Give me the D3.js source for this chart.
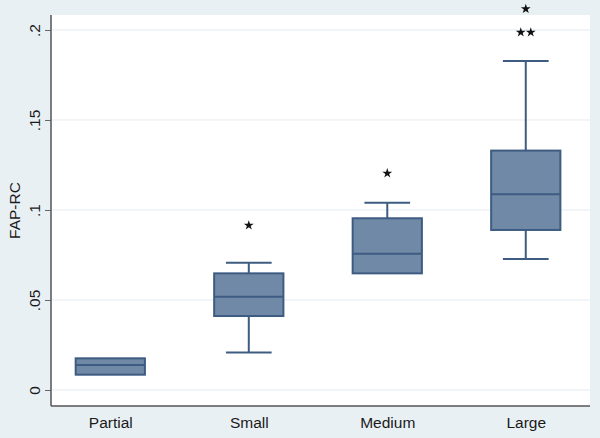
<!DOCTYPE html>
<html>
<head>
<meta charset="utf-8">
<script src="https://cdn.jsdelivr.net/npm/d3@7"></script>
<style>
  html, body { margin: 0; padding: 0; background: #e9f0f4; }
  svg { display: block; }
  text { font-family: "Liberation Sans", Arial, Helvetica, sans-serif; fill: #1a1a1a; }
</style>
</head>
<body>
<svg id="chart" width="600" height="438"></svg>
<script>
(function () {
  "use strict";

  // box plot summary per group
  const categories = ["Partial", "Small", "Medium", "Large"];
  const q1 = [0.0085, 0.0411, 0.0648, 0.0889];
  const median = [0.0139, 0.0518, 0.0757, 0.1087];
  const q3 = [0.0176, 0.0648, 0.0954, 0.1330];
  const whiskerLow = [0.0085, 0.0209, 0.0648, 0.0728];
  const whiskerHigh = [0.0176, 0.0707, 0.1040, 0.1828];
  const outliers = [[], [0.0915], [0.1204], [0.1987, 0.1987, 0.2117]];
  const yTicks = [0, 0.05, 0.1, 0.15, 0.2];
  const yTickLabels = ["0", ".05", ".1", ".15", ".2"];

  const W = 600, H = 438;
  const plot = { left: 51, right: 590, top: 15, bottom: 406 };
  const boxFill = "#7089a7";
  const boxStroke = "#3e5c82";
  const fontSize = "15.5px";

  const svg = d3.select("#chart").attr("width", W).attr("height", H);

  const x = d3.scalePoint()
    .domain(categories)
    .range([plot.left, plot.right])
    .padding(0.446)
    .align(0.48);
  const y = d3.scaleLinear()
    .domain([-0.00889, 0.20833])
    .range([plot.bottom, plot.top]);

  const step = x.step();
  const boxW = step * 0.5;
  const capW = step * 0.33;

  svg.append("rect")
    .attr("x", plot.left).attr("y", plot.top)
    .attr("width", plot.right - plot.left).attr("height", plot.bottom - plot.top)
    .attr("fill", "#fff");

  // grid
  svg.append("g")
    .selectAll("line")
    .data(yTicks)
    .join("line")
    .attr("x1", plot.left).attr("x2", plot.right)
    .attr("y1", (d) => y(d)).attr("y2", (d) => y(d))
    .attr("stroke", "#e4ecf1")
    .attr("stroke-width", 1);

  // y axis
  const yAxis = d3.axisLeft(y)
    .tickValues(yTicks)
    .tickSize(6)
    .tickFormat((d, i) => yTickLabels[i]);
  const yg = svg.append("g")
    .attr("transform", `translate(${plot.left},0)`)
    .call(yAxis);
  yg.select(".domain").remove();
  yg.selectAll(".tick line").attr("stroke", "#666").attr("stroke-width", 1);
  yg.selectAll(".tick text")
    .attr("x", 0).attr("dy", 0)
    .attr("transform", "translate(-11,0) rotate(-90)")
    .attr("text-anchor", "middle")
    .style("font-size", fontSize)
    .style("fill", "#1a1a1a");
  svg.append("line")
    .attr("x1", plot.left).attr("x2", plot.left)
    .attr("y1", plot.top).attr("y2", plot.bottom)
    .attr("stroke", "#555").attr("stroke-width", 1.5);

  // x axis
  const xAxis = d3.axisBottom(x).tickSize(0).tickPadding(11);
  const xg = svg.append("g")
    .attr("transform", `translate(0,${plot.bottom})`)
    .call(xAxis);
  xg.select(".domain").remove();
  xg.selectAll(".tick text")
    .style("font-size", fontSize)
    .style("fill", "#1a1a1a");
  svg.append("line")
    .attr("x1", plot.left).attr("x2", plot.right)
    .attr("y1", plot.bottom).attr("y2", plot.bottom)
    .attr("stroke", "#555").attr("stroke-width", 1.5);

  // axis title
  svg.append("text")
    .attr("transform", `translate(20,${(plot.top + plot.bottom) / 2}) rotate(-90)`)
    .attr("text-anchor", "middle")
    .style("font-size", fontSize)
    .text("FAP-RC");

  const rows = categories.map((c, i) => ({
    c, q1: q1[i], med: median[i], q3: q3[i],
    lo: whiskerLow[i], hi: whiskerHigh[i], out: outliers[i],
  }));

  const g = svg.append("g");
  rows.forEach((r) => {
    const cx = x(r.c);
    if (r.hi > r.q3) {
      g.append("line")
        .attr("x1", cx).attr("x2", cx).attr("y1", y(r.q3)).attr("y2", y(r.hi))
        .attr("stroke", boxStroke).attr("stroke-width", 2);
      g.append("line")
        .attr("x1", cx - capW / 2).attr("x2", cx + capW / 2).attr("y1", y(r.hi)).attr("y2", y(r.hi))
        .attr("stroke", boxStroke).attr("stroke-width", 2);
    }
    if (r.lo < r.q1) {
      g.append("line")
        .attr("x1", cx).attr("x2", cx).attr("y1", y(r.q1)).attr("y2", y(r.lo))
        .attr("stroke", boxStroke).attr("stroke-width", 2);
      g.append("line")
        .attr("x1", cx - capW / 2).attr("x2", cx + capW / 2).attr("y1", y(r.lo)).attr("y2", y(r.lo))
        .attr("stroke", boxStroke).attr("stroke-width", 2);
    }
    g.append("rect")
      .attr("x", cx - boxW / 2).attr("width", boxW)
      .attr("y", y(r.q3)).attr("height", y(r.q1) - y(r.q3))
      .attr("fill", boxFill)
      .attr("stroke", boxStroke).attr("stroke-width", 2);
    g.append("line")
      .attr("x1", cx - boxW / 2).attr("x2", cx + boxW / 2)
      .attr("y1", y(r.med)).attr("y2", y(r.med))
      .attr("stroke", boxStroke).attr("stroke-width", 2);

    // outliers; equal values get spread side by side
    const counts = d3.rollup(r.out, (v) => v.length, (d) => d);
    const seen = new Map();
    r.out.forEach((v) => {
      const n = counts.get(v);
      const k = seen.get(v) || 0;
      seen.set(v, k + 1);
      const dx = (k - (n - 1) / 2) * 10;
      g.append("path")
        .attr("d", d3.symbol(d3.symbolStar, 30)())
        .attr("transform", `translate(${cx + dx},${y(v)})`)
        .attr("fill", "#111");
    });
  });
})();
</script>
</body>
</html>
